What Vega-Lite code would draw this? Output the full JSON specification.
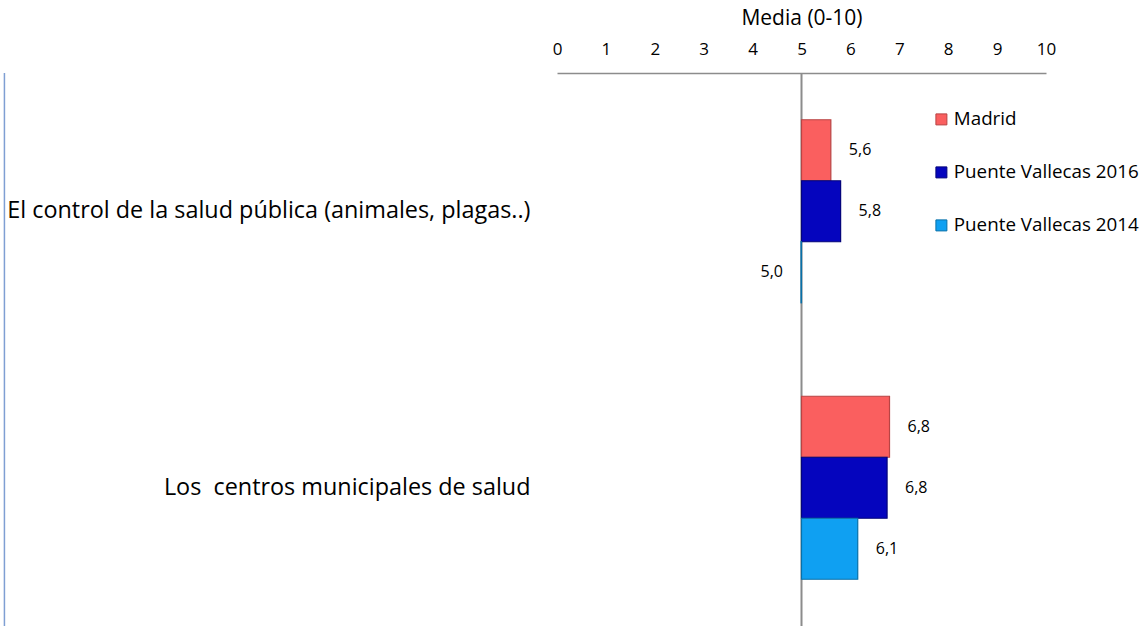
{
  "$schema": "https://vega.github.io/schema/vega-lite/v6.json",
  "width": 489,
  "height": 553,
  "autosize": {"type": "none"},
  "padding": {"left": 557, "top": 73, "right": 99, "bottom": 0},
  "background": "white",
  "config": {
    "font": "Open Sans",
    "view": {"stroke": null},
    "text": {"font": "Open Sans"}
  },
  "data": {
    "values": [
      {"category": "El control de la salud pública (animales, plagas..)", "series": "Madrid", "value": 5.6, "label": "5,6"},
      {"category": "El control de la salud pública (animales, plagas..)", "series": "Puente Vallecas 2016", "value": 5.8, "label": "5,8"},
      {"category": "El control de la salud pública (animales, plagas..)", "series": "Puente Vallecas 2014", "value": 4.99, "label": "5,0"},
      {"category": "Los \u00a0centros municipales de salud", "series": "Madrid", "value": 6.8, "label": "6,8"},
      {"category": "Los \u00a0centros municipales de salud", "series": "Puente Vallecas 2016", "value": 6.75, "label": "6,8"},
      {"category": "Los \u00a0centros municipales de salud", "series": "Puente Vallecas 2014", "value": 6.15, "label": "6,1"}
    ]
  },
  "layer": [
    {
      "mark": {"type": "rule", "color": "#8C8C8C", "strokeWidth": 2},
      "data": {"values": [{"base": 5}]},
      "encoding": {
        "x": {
          "field": "base",
          "type": "quantitative",
          "scale": {"domain": [0, 10], "nice": false, "zero": false},
          "axis": {
            "orient": "top",
            "values": [0, 1, 2, 3, 4, 5, 6, 7, 8, 9, 10],
            "grid": false,
            "ticks": false,
            "domain": true,
            "domainColor": "#8C8C8C",
            "domainWidth": 1.5,
            "labelFontSize": 17,
            "labelColor": "#000000",
            "labelPadding": 15,
            "labelFlush": false,
            "title": "Media (0-10)",
            "titleFontSize": 21,
            "titleFontWeight": "normal",
            "titleColor": "#000000",
            "titlePadding": 12
          }
        }
      }
    },
    {
      "mark": {"type": "rule", "color": "#7F9FD3", "strokeWidth": 1.5, "clip": false},
      "data": {"values": [{"edge": -11.3}]},
      "encoding": {"x": {"field": "edge", "type": "quantitative"}}
    },
    {
      "encoding": {
        "y": {
          "field": "category",
          "type": "nominal",
          "sort": null,
          "scale": {"paddingInner": 0.338, "paddingOuter": 0.169},
          "axis": {
            "title": null,
            "domain": false,
            "ticks": false,
            "labelFontSize": 23.4,
            "labelColor": "#000000",
            "labelPadding": 27,
            "labelLimit": 700,
            "labelFont": "Open Sans"
          }
        },
        "yOffset": {
          "field": "series",
          "type": "nominal",
          "sort": ["Madrid", "Puente Vallecas 2016", "Puente Vallecas 2014"],
          "scale": {"paddingInner": 0, "paddingOuter": 0}
        }
      },
      "layer": [
        {
          "mark": {"type": "bar", "strokeWidth": 1.2},
          "encoding": {
            "x": {"field": "value", "type": "quantitative"},
            "x2": {"datum": 5},
            "color": {
              "field": "series",
              "type": "nominal",
              "sort": ["Madrid", "Puente Vallecas 2016", "Puente Vallecas 2014"],
              "scale": {
                "domain": ["Madrid", "Puente Vallecas 2016", "Puente Vallecas 2014"],
                "range": ["#FA5F5F", "#0505BE", "#0FA0F2"]
              },
              "legend": {
                "orient": "none",
                "legendX": 375,
                "legendY": 37,
                "title": null,
                "symbolType": "square",
                "symbolSize": 121,
                "symbolStrokeWidth": 1,
                "labelFontSize": 18.8,
                "labelColor": "#000000",
                "labelOffset": 3,
                "rowPadding": 33,
                "labelLimit": 300
              }
            },
            "stroke": {
              "field": "series",
              "type": "nominal",
              "scale": {
                "domain": ["Madrid", "Puente Vallecas 2016", "Puente Vallecas 2014"],
                "range": ["#B84444", "#04047A", "#0870A8"]
              },
              "legend": null
            }
          }
        },
        {
          "mark": {"type": "text", "align": "left", "dx": 18, "fontSize": 16, "color": "#000000"},
          "transform": [{"filter": "datum.value >= 5"}],
          "encoding": {
            "x": {"field": "value", "type": "quantitative"},
            "text": {"field": "label"}
          }
        },
        {
          "mark": {"type": "text", "align": "right", "dx": -18, "fontSize": 16, "color": "#000000"},
          "transform": [{"filter": "datum.value < 5"}],
          "encoding": {
            "x": {"field": "value", "type": "quantitative"},
            "text": {"field": "label"}
          }
        }
      ]
    }
  ]
}
